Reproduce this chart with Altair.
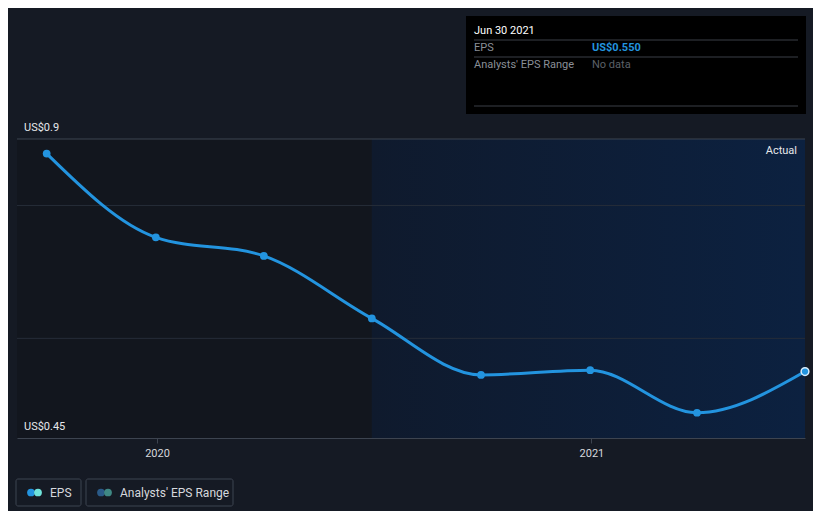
import altair as alt
import pandas as pd

dates = ["2019-09-30", "2019-12-31", "2020-03-31", "2020-06-30",
         "2020-09-30", "2020-12-31", "2021-03-31", "2021-06-30"]
eps = [0.878, 0.752, 0.724, 0.630, 0.545, 0.552, 0.488, 0.550]

x_domain = ["2019-09-05", "2021-06-30"]
past_end = "2020-06-30"
y_min, y_max = 0.45, 0.9
grid_vals = [0.8, 0.6]
tick_dates = ["2020-01-01", "2021-01-01"]

BG = "#151a24"
LINE = "#2394df"

df = pd.DataFrame({"date": pd.to_datetime(dates), "eps": eps})
W, H = 788, 299

xs = alt.Scale(domain=[pd.Timestamp(d).isoformat() for d in x_domain])
ys = alt.Scale(domain=[y_min, y_max], nice=False, zero=False)

regions = pd.DataFrame({
    "start": pd.to_datetime([x_domain[0], past_end]),
    "end": pd.to_datetime([past_end, x_domain[1]]),
    "kind": ["past", "actual"],
})

past = alt.Chart(regions[regions.kind == "past"]).mark_rect(color="#12161e").encode(
    x=alt.X("start:T", scale=xs, axis=alt.Axis(values=[pd.Timestamp(d).isoformat() for d in tick_dates],
                                                format="%Y", title=None, labelColor="#d5d8dd",
                                                labelFontSize=11, labelFont="Roboto",
                                                domainColor="#3d4450", tickColor="#3d4450",
                                                tickSize=5, grid=False, labelPadding=4)),
    x2="end:T",
    y=alt.value(0), y2=alt.value(H),
)
actual = alt.Chart(regions[regions.kind == "actual"]).mark_rect(
    color=alt.Gradient(gradient="linear",
                       stops=[alt.GradientStop(color="#0f1a2d", offset=0),
                              alt.GradientStop(color="#0c2140", offset=1)],
                       x1=0, x2=1, y1=0, y2=0)
).encode(x=alt.X("start:T", scale=xs), x2="end:T", y=alt.value(0), y2=alt.value(H))

grid = alt.Chart(pd.DataFrame({"v": grid_vals})).mark_rule(color="#262d39", strokeWidth=1).encode(
    y=alt.Y("v:Q", scale=ys, axis=None), x=alt.value(0), x2=alt.value(W))
top = alt.Chart(pd.DataFrame({"v": [y_max]})).mark_rule(color="#3d4450", strokeWidth=1).encode(
    y=alt.Y("v:Q", scale=ys), x=alt.value(0), x2=alt.value(W))

line = alt.Chart(df).mark_line(color=LINE, strokeWidth=3, interpolate="monotone").encode(
    x=alt.X("date:T", scale=xs), y=alt.Y("eps:Q", scale=ys))
pts = alt.Chart(df.iloc[:-1]).mark_circle(color=LINE, size=60, opacity=1).encode(
    x=alt.X("date:T", scale=xs), y=alt.Y("eps:Q", scale=ys))
last = alt.Chart(df.iloc[-1:]).mark_point(filled=True, fill=LINE, stroke="#d8ecfb",
                                           strokeWidth=1.5, size=60, opacity=1).encode(
    x=alt.X("date:T", scale=xs), y=alt.Y("eps:Q", scale=ys))

ylab = alt.Chart(pd.DataFrame({"v": [y_max, y_min], "t": ["US$0.9", "US$0.45"]})).mark_text(
    align="left", baseline="bottom", dy=-6, color="#e6e8eb", font="Roboto", fontSize=11).encode(
    y=alt.Y("v:Q", scale=ys), x=alt.value(7), text="t:N")

actual_lbl = alt.Chart(pd.DataFrame({"t": ["Actual"]})).mark_text(
    align="right", baseline="middle", color="#e6e8eb", font="Roboto", fontSize=11).encode(
    x=alt.value(W - 8), y=alt.value(12), text="t:N")

# tooltip box
tip_box = alt.Chart(pd.DataFrame({"a": [1]})).mark_rect(color="#000000").encode(
    x=alt.value(449), x2=alt.value(789), y=alt.value(-123), y2=alt.value(-25))
tip_lines = alt.Chart(pd.DataFrame({"yy": [-99, -82, -33]})).mark_rule(color="#3a3f47").encode(
    y=alt.Y("yy:Q", scale=None), x=alt.value(457), x2=alt.value(781))
tip_txt = pd.DataFrame({
    "t": ["Jun 30 2021", "EPS", "US$0.550", "Analysts' EPS Range", "No data"],
    "xx": [457, 457, 575, 457, 575],
    "yy": [-108, -91, -91, -74, -74],
    "c": ["#ffffff", "#8a8f97", LINE, "#8a8f97", "#5c6068"],
    "w": ["normal", "normal", "bold", "normal", "normal"],
})
tip_t1 = alt.Chart(tip_txt[tip_txt.w == "normal"]).mark_text(
    align="left", baseline="middle", font="Roboto", fontSize=11).encode(
    x=alt.X("xx:Q", scale=None), y=alt.Y("yy:Q", scale=None), text="t:N",
    color=alt.Color("c:N", scale=None))
tip_t2 = alt.Chart(tip_txt[tip_txt.w == "bold"]).mark_text(
    align="left", baseline="middle", font="Roboto", fontSize=11, fontWeight="bold").encode(
    x=alt.X("xx:Q", scale=None), y=alt.Y("yy:Q", scale=None), text="t:N",
    color=alt.Color("c:N", scale=None))

# legend
leg_boxes = alt.Chart(pd.DataFrame({"x1": [-1, 69], "x2": [64, 216]})).mark_rect(
    fill=BG, stroke="#3d4450", strokeWidth=1, cornerRadius=2).encode(
    x=alt.X("x1:Q", scale=None), x2="x2:Q", y=alt.value(340), y2=alt.value(367))
leg_dots = alt.Chart(pd.DataFrame({
    "xx": [14, 21, 84, 91], "c": ["#2394df", "#6fe3da", "#2a5a88", "#3f8884"]})).mark_circle(
    size=60, opacity=1).encode(
    x=alt.X("xx:Q", scale=None), y=alt.value(353.5), color=alt.Color("c:N", scale=None))
leg_txt = alt.Chart(pd.DataFrame({"xx": [33, 103], "t": ["EPS", "Analysts' EPS Range"]})).mark_text(
    align="left", baseline="middle", color="#d5d8dd", font="Roboto", fontSize=12).encode(
    x=alt.X("xx:Q", scale=None), y=alt.value(354), text="t:N")

chart = alt.layer(past, actual, grid, top, line, pts, last, ylab, actual_lbl,
                  tip_box, tip_lines, tip_t1, tip_t2, leg_boxes, leg_dots, leg_txt).properties(
    width=W, height=H, background=BG,
    autosize=alt.AutoSizeParams(type="none"),
    padding={"left": 9, "top": 131, "right": 8, "bottom": 73},
).configure_view(stroke=None, clip=False).configure_axis(labelFont="Roboto")

chart.save("out.html", embed_options={"renderer": "svg", "actions": False})
